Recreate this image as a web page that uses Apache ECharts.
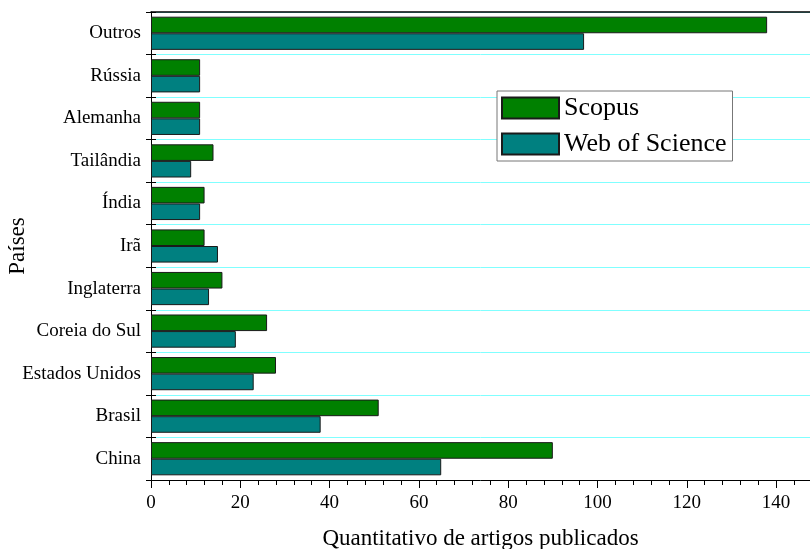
<!DOCTYPE html>
<html>
<head>
<meta charset="utf-8">
<script src="https://cdn.jsdelivr.net/npm/echarts@6/dist/echarts.min.js"></script>
<style>
  html, body { margin: 0; padding: 0; background: #fff; }
  #chart { width: 810px; height: 549px; }
</style>
</head>
<body>
<div id="chart"></div>
<script>
// Countries, listed from the top of the chart downward
const countries = ['Outros', 'Rússia', 'Alemanha', 'Tailândia', 'Índia', 'Irã',
  'Inglaterra', 'Coreia do Sul', 'Estados Unidos', 'Brasil', 'China'];
// Published articles per database
const scopus = [138, 11, 11, 14, 12, 12, 16, 26, 28, 51, 90];
const webOfScience = [97, 11, 11, 9, 11, 15, 13, 19, 23, 38, 65];
const seriesNames = ['Scopus', 'Web of Science'];
const xTitle = 'Quantitativo de artigos publicados';
const yTitle = 'Países';

const FONT = '"Liberation Serif", "Times New Roman", serif';
const barBorder = { borderColor: '#1a1a1a', borderWidth: 1 };

const chart = echarts.init(document.getElementById('chart'), null, { renderer: 'canvas' });

chart.setOption({
  animation: false,
  textStyle: { fontFamily: FONT },
  grid: {
    left: 151, right: 0, top: 12, bottom: 69,
    containLabel: false,
    outerBoundsMode: 'none'
  },
  legend: {
    orient: 'vertical',
    left: 497,
    top: 91,
    padding: [4, 6, 4, 4],
    itemWidth: 57,
    itemHeight: 21,
    itemGap: 10,
    icon: 'rect',
    borderColor: '#777',
    borderWidth: 1,
    borderRadius: 0,
    backgroundColor: '#fff',
    textStyle: { fontFamily: FONT, fontSize: 26, lineHeight: 21, color: '#000' },
    data: seriesNames
  },
  xAxis: [
    {
      type: 'value',
      position: 'bottom',
      min: 0,
      max: 147.6,
      interval: 20,
      name: xTitle,
      nameLocation: 'middle',
      nameGap: 47,
      nameTextStyle: { fontFamily: FONT, fontSize: 23, color: '#000' },
      axisLine: { show: true, lineStyle: { color: '#000', width: 1 } },
      axisTick: { show: true, inside: false, length: 8, lineStyle: { color: '#000' } },
      minorTick: { show: true, splitNumber: 5, length: 5, lineStyle: { color: '#000' } },
      axisLabel: { fontFamily: FONT, fontSize: 19, color: '#000', margin: 14, showMaxLabel: false },
      splitLine: { show: false }
    },
    {
      type: 'value',
      position: 'top',
      min: 0,
      max: 147.6,
      axisLine: { show: true, lineStyle: { color: '#000', width: 1.5 } },
      axisTick: { show: false },
      axisLabel: { show: false },
      splitLine: { show: false }
    }
  ],
  yAxis: [
    {
      type: 'category',
      inverse: true,
      data: countries,
      name: yTitle,
      nameLocation: 'middle',
      nameGap: 122,
      nameMoveOverlap: false,
      nameRotate: 90,
      nameTextStyle: { fontFamily: FONT, fontSize: 23, color: '#000' },
      axisLine: { show: true, lineStyle: { color: '#000', width: 1 } },
      axisTick: { show: true, inside: false, length: 5, lineStyle: { color: '#000' } },
      axisLabel: { fontFamily: FONT, fontSize: 19, color: '#000', margin: 10 },
      splitLine: { show: true, lineStyle: { color: '#80ffff', width: 1 } }
    },
    {
      // inner half of the cross-shaped ticks on the left axis
      type: 'category',
      inverse: true,
      position: 'left',
      data: countries,
      axisLine: { show: false },
      axisTick: { show: true, inside: true, length: 5, lineStyle: { color: '#000' } },
      axisLabel: { show: false },
      splitLine: { show: false }
    }
  ],
  series: [
    {
      name: seriesNames[0],
      type: 'bar',
      data: scopus,
      barGap: '0%',
      barCategoryGap: '22%',
      itemStyle: Object.assign({ color: '#008000' }, barBorder)
    },
    {
      name: seriesNames[1],
      type: 'bar',
      data: webOfScience,
      barGap: '0%',
      barCategoryGap: '22%',
      itemStyle: Object.assign({ color: '#008080' }, barBorder)
    }
  ]
});
</script>
</body>
</html>
